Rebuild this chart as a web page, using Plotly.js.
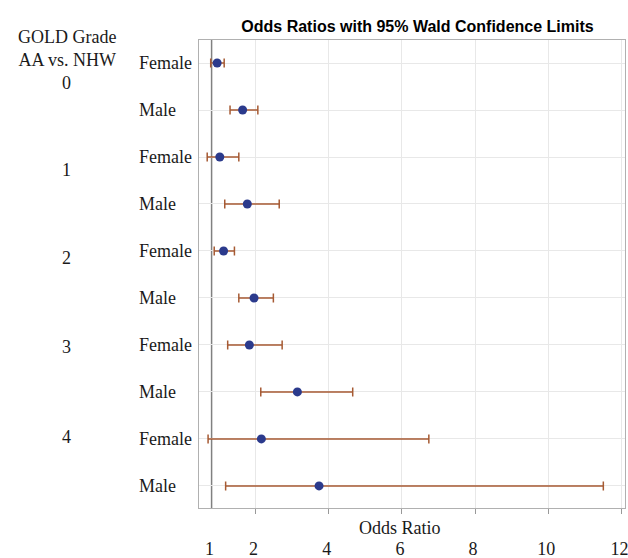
<!DOCTYPE html>
<html>
<head>
<meta charset="utf-8">
<script src="https://cdn.plot.ly/plotly-3.0.1.min.js"></script>
<style>html,body{margin:0;padding:0;background:#fff;}#chart{width:628px;height:558px;}</style>
</head>
<body>
<div id="chart"></div>
<script>
// ---- data ----
const grades = ['0', '1', '2', '3', '4'];
const rowLabels = ['Female', 'Male', 'Female', 'Male', 'Female', 'Male', 'Female', 'Male', 'Female', 'Male'];
const oddsRatio = [1.19, 2.06, 1.28, 2.22, 1.41, 2.45, 2.29, 3.93, 2.70, 4.67];
const lowerCL   = [0.97, 1.63, 0.85, 1.45, 1.09, 1.93, 1.55, 2.68, 0.88, 1.48];
const upperCL   = [1.43, 2.58, 1.93, 3.31, 1.78, 3.11, 3.41, 5.82, 8.42, 14.38];
const tickVals  = [1, 2.5, 5, 7.5, 10, 12.5, 15];
const tickText  = ['1', '2', '4', '6', '8', '10', '12'];
const refValue  = 1;

// ---- build ----
const rows = rowLabels.map((_, i) => i);
const serif = 'Liberation Serif, Times New Roman, serif';
const gridTicks = tickVals.filter(v => v !== refValue);

const trace = {
  type: 'scatter', mode: 'markers',
  x: oddsRatio, y: rows,
  marker: {color: '#2b3a8c', size: 9},
  error_x: {
    type: 'data', symmetric: false,
    array: upperCL.map((u, i) => u - oddsRatio[i]),
    arrayminus: lowerCL.map((l, i) => oddsRatio[i] - l),
    color: '#a65a33', thickness: 1.5, width: 4.5
  },
  hoverinfo: 'x+y', showlegend: false
};

const xRange = [0.57, 15.12];
const annotations = [];
rowLabels.forEach((lab, i) => annotations.push({
  text: lab, xref: 'paper', yref: 'y', x: -0.1455, y: i, xanchor: 'left', yanchor: 'middle',
  showarrow: false, font: {family: serif, size: 18, color: '#1a1a1a'}
}));
const gradeShift = [-20, -13, -7, -2, 2];
grades.forEach((g, k) => annotations.push({
  text: g, xref: 'paper', yref: 'y', x: -0.31, y: 2 * k, yshift: gradeShift[k],
  xanchor: 'center', yanchor: 'middle', showarrow: false,
  font: {family: serif, size: 18, color: '#1a1a1a'}
}));
annotations.push({
  text: 'GOLD Grade<br>AA vs. NHW', xref: 'paper', yref: 'paper', x: -0.31, y: (508 - 48.5) / 468,
  xanchor: 'center', yanchor: 'middle', showarrow: false,
  font: {family: serif, size: 18, color: '#1a1a1a'}
});
// x-axis title (sits above the tick labels in the reference)
annotations.push({
  text: 'Odds Ratio', xref: 'paper', yref: 'paper', x: (400 - 199) / 426, y: (508 - 528) / 468,
  xanchor: 'center', yanchor: 'middle', showarrow: false,
  font: {family: serif, size: 18, color: '#1a1a1a'}
});

const layout = {
  width: 628, height: 558,
  margin: {l: 199, r: 3, t: 40, b: 50},
  paper_bgcolor: '#fff', plot_bgcolor: '#fff',
  title: {
    text: 'Odds Ratios with 95% Wald Confidence Limits',
    xref: 'container', x: 417.5 / 628, xanchor: 'center',
    yref: 'container', y: 1 - 26 / 558, yanchor: 'middle',
    font: {family: 'Liberation Sans, Arial, sans-serif', size: 16, weight: 700, color: '#000'}
  },
  xaxis: {
    range: xRange, tickmode: 'array', tickvals: tickVals, ticktext: tickText,
    ticks: '', showgrid: false, zeroline: false,
    ticklabelstandoff: 24, ticklabelshift: -2, ticklabeloverflow: 'allow',
    tickfont: {family: serif, size: 18, color: '#1a1a1a'},
    minor: {tickmode: 'array', tickvals: gridTicks, ticks: 'outside', ticklen: 5, tickcolor: '#999',
            showgrid: true, gridcolor: '#e8e8e8'},
    showline: true, linecolor: '#b0b0b0', mirror: true
  },
  yaxis: {
    range: [9.47, -0.49], tickmode: 'array', tickvals: rows,
    showticklabels: false, ticks: '', showgrid: true, gridcolor: '#e8e8e8', zeroline: false,
    showline: true, linecolor: '#b0b0b0', mirror: true
  },
  shapes: [{
    type: 'line', xref: 'x', yref: 'paper', x0: refValue, x1: refValue, y0: 0, y1: 1,
    line: {color: '#808080', width: 1.5}, layer: 'below'
  }],
  annotations: annotations
};

Plotly.newPlot('chart', [trace], layout, {staticPlot: true, displayModeBar: false});
</script>
</body>
</html>
